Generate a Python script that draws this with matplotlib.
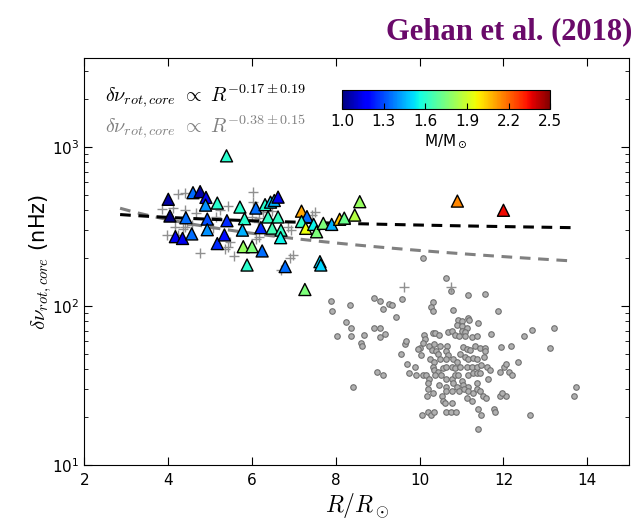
import numpy as np
import matplotlib
matplotlib.use("Agg")
import matplotlib.pyplot as plt

# triangles: radius, core rotational splitting (nHz), mass
tri_r = [4.00, 4.59, 4.76, 4.90, 4.89, 5.17, 4.04, 4.42, 4.93, 4.93, 4.17, 4.34, 4.56, 5.17,
         5.39, 5.71, 6.09, 6.31, 6.44, 6.53, 6.62, 5.40, 5.82, 6.38, 6.62, 7.18, 5.77, 6.21,
         6.48, 6.69, 6.68, 5.34, 5.79, 6.00, 6.24, 5.88, 6.79, 7.31, 7.18, 7.28, 7.47, 7.54,
         7.70, 7.90, 8.09, 8.20, 8.45, 8.57, 7.62, 7.64, 7.26, 10.9, 12.0]
tri_dnu = [469, 516, 524, 482, 431, 444, 368, 359, 352, 302, 273, 266, 284, 247,
           880, 419, 413, 434, 450, 461, 484, 344, 354, 363, 363, 395, 300, 311,
           309, 300, 269, 280, 236, 236, 222, 181, 177, 365, 340, 308, 326, 293,
           331, 326, 351, 357, 373, 453, 190, 181, 127, 457, 400]
tri_mass = [1.05, 1.35, 1.05, 1.15, 1.40, 1.60, 1.00, 1.35, 1.30, 1.40, 1.15, 1.15, 1.35, 1.25,
            1.60, 1.60, 1.35, 1.60, 1.50, 1.45, 1.15, 1.25, 1.60, 1.62, 1.62, 2.10, 1.45, 1.25,
            1.65, 1.62, 1.55, 1.20, 1.80, 1.75, 1.35, 1.60, 1.35, 1.35, 1.62, 1.95, 1.55, 1.75,
            1.75, 1.45, 2.05, 1.72, 1.85, 1.80, 1.50, 1.50, 1.75, 2.15, 2.35]

# grey crosses
plus_r = [4.24, 4.41, 6.03, 6.03, 3.84, 4.12, 4.40, 4.66, 5.23, 5.43, 6.27, 6.47, 6.17, 5.99,
          6.15, 5.15, 4.16, 4.40, 4.45, 4.56, 5.07, 3.96, 4.24, 4.36, 4.76, 5.43, 5.47, 5.35,
          5.57, 6.17, 6.10, 6.85, 6.94, 6.98, 6.90, 6.68, 7.42, 7.51, 9.63, 10.75]
plus_dnu = [506, 517, 519, 453, 408, 412, 400, 387, 402, 426, 392, 396, 359, 364,
            339, 364, 316, 313, 332, 324, 308, 280, 280, 304, 216, 236, 254, 227,
            206, 273, 264, 313, 300, 208, 200, 168, 373, 388, 132, 132]

# grey circles
circ_r = [10.08, 10.62, 10.74, 11.16, 11.57, 7.88, 7.90, 8.33, 8.91, 9.06, 9.13, 9.27, 9.34, 9.59,
          9.44, 10.32, 10.26, 10.32, 10.80, 11.86, 8.24, 8.37, 8.02, 8.36, 8.68, 8.90, 9.06,
          9.06, 9.18, 8.60, 8.63, 9.55, 9.66, 9.68, 9.70, 9.74, 9.90, 8.97, 9.13, 8.41,
          10.91, 11.01, 11.15, 11.17, 11.39, 10.88, 11.02, 11.13, 11.00, 11.08, 10.68, 10.77,
          10.84, 10.95, 11.09, 11.24, 11.37, 11.70, 10.11, 10.32, 10.36, 10.45, 10.12, 10.08,
          10.23, 10.35, 10.48, 10.66, 10.00, 9.96, 10.03, 10.30, 10.39, 10.43, 10.62, 10.68,
          11.04, 11.12, 11.20, 11.32, 11.43, 11.57, 11.55, 10.97, 11.08, 11.16, 11.28, 11.36,
          11.53, 11.94, 12.19, 12.48, 12.67, 13.21, 13.12, 10.24, 10.35, 10.48, 10.62, 10.80,
          10.88, 10.32, 10.35, 10.44, 10.56, 10.64, 10.76, 10.84, 10.96, 11.12, 11.24, 11.36,
          11.47, 11.61, 11.69, 11.91, 12.01, 12.07, 12.34, 12.13, 12.21, 9.92, 10.07, 10.16,
          10.23, 10.36, 10.52, 10.64, 10.76, 10.84, 10.92, 11.01, 11.16, 11.28, 11.36, 11.45,
          11.62, 10.20, 10.46, 10.64, 10.80, 10.88, 11.04, 11.16, 11.36, 10.20, 10.18, 10.31,
          10.54, 10.64, 10.76, 10.94, 11.05, 11.16, 11.28, 11.36, 11.43, 11.50, 11.58, 11.12,
          11.26, 10.56, 10.60, 10.77, 11.91, 12.05, 11.97, 10.06, 10.19, 10.27, 10.35, 10.64,
          10.74, 10.86, 11.39, 11.47, 11.78, 11.79, 11.39, 12.63, 13.73, 13.68]
circ_dnu = [200, 151, 125, 117, 119, 107, 92.5, 101.7, 111.8, 107, 95.3, 103.6, 101.7, 110,
            85.1, 106.3, 98, 93.4, 94.4, 93.4, 79.6, 72.2, 64.8, 64.8, 65.7, 73.2, 72.2,
            63.9, 66.7, 58.3, 56.4, 49.9, 57.4, 60.2, 43.3, 37.7, 41.5, 38.6, 36.7, 31.1,
            81.5, 80.5, 84.2, 81.5, 78.7, 75.9, 75, 72.2, 69.4, 68.5, 68.5, 69.4,
            65.7, 64.8, 64.8, 63.9, 64.8, 66.7, 65.7, 67.6, 67.6, 65.7, 62, 58.3,
            56.4, 57.4, 56.4, 56.4, 54.6, 53.6, 49, 52.7, 51.8, 49.9, 51.8, 49,
            55.5, 53.6, 52.7, 56.4, 54.6, 54.6, 51.8, 49.9, 48, 46.1, 47.1, 46.1,
            48, 55.5, 56.4, 64.8, 70.4, 72.2, 54.6, 46.1, 44.3, 46.1, 46.1, 46.1,
            44.3, 41.5, 39.5, 38.6, 40.5, 41.5, 41.5, 40.5, 41.5, 41.5, 41.5, 41.5,
            42.4, 41.5, 39.5, 38.6, 41.5, 43.3, 44.3, 38.6, 36.7, 36.7, 36.7, 36.7,
            34.9, 36.7, 36.7, 34.9, 34.9, 36.7, 36.7, 33.9, 36.7, 37.7, 37.7, 37.7,
            34.9, 33, 32, 31.1, 33, 31.1, 32, 31.1, 33, 30.1, 27.3, 28.2,
            27.3, 29.2, 29.2, 29.2, 30.1, 29.2, 28.2, 30.1, 29.2, 27.3, 26.3, 26.3,
            25.4, 25.4, 24.4, 24.4, 27.3, 27.3, 28.2, 20.6, 21.6, 20.6, 21.6, 21.6,
            21.6, 21.6, 22.5, 20.6, 22.5, 21.6, 16.8, 20.6, 31.1, 27.3]

# fit lines (end points as drawn)
fit_r = [2.85, 13.65]
fit_black = [376, 311]
fit_grey = [412, 192]

cb_ticks = [1.0, 1.3, 1.6, 1.9, 2.2, 2.5]

fig = plt.figure(figsize=(6.42, 5.21), dpi=100)
ax = fig.add_axes([0.1316, 0.1075, 0.8484, 0.7812])

ax.scatter(circ_r, circ_dnu, s=16, marker='o', facecolor='#b0b0b0', edgecolor='#707070',
           linewidths=0.8, zorder=2)
ax.scatter(plus_r, plus_dnu, s=55, marker='+', color='#909090', linewidths=1.0, zorder=2)

rr = np.linspace(fit_r[0], fit_r[1], 50)
for vals, col in [(fit_grey, '#808080'), (fit_black, 'black')]:
    b = np.log10(vals[1] / vals[0]) / np.log10(fit_r[1] / fit_r[0])
    ax.plot(rr, vals[0] * (rr / fit_r[0]) ** b, color=col, lw=2.2, ls=(0, (3.5, 2.5)), zorder=3)

sc = ax.scatter(tri_r, tri_dnu, c=tri_mass, cmap='jet', vmin=1.0, vmax=2.5, marker='^',
                s=75, edgecolor='black', linewidths=1.0, zorder=4)

ax.set_yscale('log')
ax.set_xlim(2, 15)
ax.set_ylim(10, 3630)
ax.set_xticks([2, 4, 6, 8, 10, 12, 14])
ax.tick_params(which='both', direction='in', top=True, right=True, labelsize=11)
ax.tick_params(which='major', length=6)
ax.tick_params(which='minor', length=3)
ax.tick_params(axis='x', pad=6)

ax.set_xlabel(r'$R/R_\odot$', fontsize=17, math_fontfamily='cm', labelpad=2)
ax.set_ylabel(r'$\delta\nu_{rot,core}$ (nHz)', fontsize=15, math_fontfamily='cm', labelpad=-1)

ax.text(0.038, 0.905, r'$\delta\nu_{rot,core}\ \propto\ R^{-0.17\pm0.19}$', transform=ax.transAxes,
        fontsize=14.5, math_fontfamily='cm', color='black', va='center')
ax.text(0.038, 0.83, r'$\delta\nu_{rot,core}\ \propto\ R^{-0.38\pm0.15}$', transform=ax.transAxes,
        fontsize=14.5, math_fontfamily='cm', color='#808080', va='center')

cax = fig.add_axes([0.533, 0.79, 0.324, 0.037])
cb = fig.colorbar(sc, cax=cax, orientation='horizontal', ticks=cb_ticks)
cb.ax.tick_params(direction='in', length=4, labelsize=11)
cb.ax.set_xticklabels(['1.0', '1.3', '1.6', '1.9', '2.2', '2.5'])
cb.set_label(r'M/M$_\odot$', fontsize=11, labelpad=2)

fig.text(0.985, 0.94, 'Gehan et al. (2018)', ha='right', va='center', fontsize=22,
         fontweight='bold', family='Liberation Serif', color='#6a0a6a')

fig.savefig('out.png', dpi=100)
